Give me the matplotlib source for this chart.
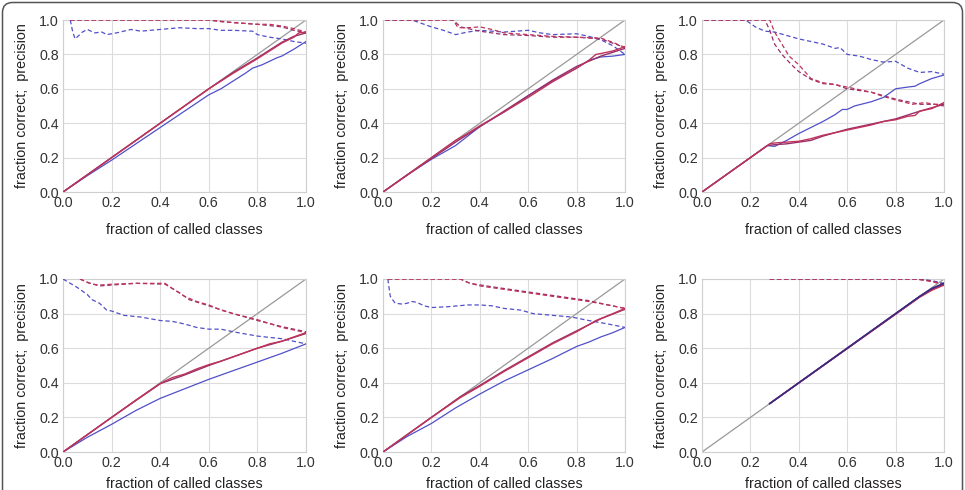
import matplotlib
matplotlib.use("Agg")
import matplotlib.pyplot as plt
from matplotlib.patches import FancyBboxPatch

plt.rcParams['font.family'] = ['Liberation Sans', 'DejaVu Sans']

# ---------------- data ----------------
TICKS = [0.0, 0.2, 0.4, 0.6, 0.8, 1.0]
TICK_LABELS = ["0.0", "0.2", "0.4", "0.6", "0.8", "1.0"]
XLABEL = "fraction of called classes"
YLABEL = "fraction correct;  precision"

# Panel 1
P1_BLUE_X = [0, 0.1, 0.2, 0.3, 0.4, 0.5, 0.6, 0.65, 0.7, 0.75, 0.78, 0.82, 0.88, 0.9, 0.95, 1.0]
P1_BLUE_Y = [0, 0.095, 0.185, 0.28, 0.375, 0.47, 0.565, 0.6, 0.645, 0.69, 0.72, 0.74, 0.78, 0.79, 0.83, 0.875]
P1_RED_X = [0, 0.6, 0.7, 0.8, 0.85, 0.9, 0.95, 0.97, 1.0]
P1_RED_Y = [0, 0.6, 0.69, 0.775, 0.82, 0.865, 0.9, 0.925, 0.93]
P1_PURPLE_X = [0, 0.6, 0.7, 0.8, 0.9, 0.95, 1.0]
P1_PURPLE_Y = [0, 0.6, 0.695, 0.78, 0.87, 0.905, 0.925]
P1_BLUE_D_X = [0.03, 0.04, 0.05, 0.08, 0.1, 0.13, 0.16, 0.18, 0.22, 0.28, 0.32, 0.4, 0.48, 0.55, 0.6, 0.65, 0.7, 0.78, 0.8, 0.85, 0.9, 0.95, 1.0]
P1_BLUE_D_Y = [1.0, 0.93, 0.89, 0.93, 0.945, 0.925, 0.93, 0.915, 0.925, 0.945, 0.935, 0.945, 0.955, 0.95, 0.95, 0.94, 0.94, 0.935, 0.915, 0.9, 0.89, 0.875, 0.865]
P1_RED_D_X = [0.03, 0.6, 0.65, 0.7, 0.8, 0.85, 0.9, 0.95, 1.0]
P1_RED_D_Y = [1, 1, 0.99, 0.985, 0.975, 0.975, 0.965, 0.95, 0.93]
P1_PURPLE_D_X = [0.03, 0.6, 0.7, 0.8, 0.9, 0.95, 1.0]
P1_PURPLE_D_Y = [1, 1, 0.985, 0.975, 0.96, 0.94, 0.925]

# Panel 2
P2_BLUE_X = [0, 0.1, 0.2, 0.3, 0.4, 0.5, 0.6, 0.7, 0.8, 0.85, 0.9, 0.95, 1.0]
P2_BLUE_Y = [0, 0.1, 0.19, 0.27, 0.38, 0.465, 0.56, 0.645, 0.72, 0.765, 0.785, 0.79, 0.8]
P2_RED_X = [0, 0.1, 0.2, 0.3, 0.35, 0.4, 0.5, 0.6, 0.7, 0.8, 0.85, 0.88, 0.9, 0.95, 1.0]
P2_RED_Y = [0, 0.1, 0.2, 0.3, 0.34, 0.385, 0.465, 0.55, 0.64, 0.72, 0.765, 0.8, 0.805, 0.82, 0.845]
P2_PURPLE_X = [0, 0.2, 0.3, 0.4, 0.5, 0.6, 0.7, 0.8, 0.9, 1.0]
P2_PURPLE_Y = [0, 0.195, 0.29, 0.38, 0.47, 0.56, 0.65, 0.73, 0.79, 0.835]
P2_BLUE_D_X = [0.01, 0.12, 0.16, 0.2, 0.25, 0.3, 0.35, 0.4, 0.5, 0.6, 0.65, 0.7, 0.8, 0.85, 0.9, 0.95, 1.0]
P2_BLUE_D_Y = [1, 1, 0.98, 0.96, 0.94, 0.915, 0.93, 0.94, 0.93, 0.94, 0.925, 0.915, 0.92, 0.905, 0.885, 0.85, 0.8]
P2_RED_D_X = [0.01, 0.29, 0.31, 0.35, 0.4, 0.45, 0.5, 0.6, 0.7, 0.8, 0.9, 0.95, 1.0]
P2_RED_D_Y = [1, 1, 0.955, 0.955, 0.96, 0.945, 0.925, 0.915, 0.905, 0.9, 0.895, 0.87, 0.84]
P2_PURPLE_D_X = [0.01, 0.29, 0.32, 0.4, 0.5, 0.6, 0.7, 0.8, 0.9, 1.0]
P2_PURPLE_D_Y = [1, 1, 0.96, 0.935, 0.915, 0.91, 0.9, 0.9, 0.89, 0.84]

# Panel 3
P3_BLUE_X = [0, 0.27, 0.3, 0.35, 0.4, 0.45, 0.5, 0.55, 0.58, 0.6, 0.63, 0.7, 0.75, 0.8, 0.85, 0.88, 0.9, 0.95, 1.0]
P3_BLUE_Y = [0, 0.27, 0.265, 0.3, 0.34, 0.375, 0.41, 0.45, 0.48, 0.48, 0.5, 0.525, 0.55, 0.6, 0.61, 0.615, 0.63, 0.66, 0.68]
P3_RED_X = [0, 0.28, 0.3, 0.35, 0.4, 0.45, 0.5, 0.55, 0.6, 0.65, 0.7, 0.75, 0.8, 0.85, 0.88, 0.9, 0.95, 1.0]
P3_RED_Y = [0, 0.28, 0.285, 0.29, 0.295, 0.31, 0.33, 0.345, 0.36, 0.375, 0.39, 0.41, 0.42, 0.44, 0.445, 0.47, 0.485, 0.52]
P3_PURPLE_X = [0, 0.27, 0.3, 0.35, 0.4, 0.45, 0.5, 0.6, 0.7, 0.8, 0.9, 1.0]
P3_PURPLE_Y = [0, 0.27, 0.275, 0.28, 0.29, 0.3, 0.325, 0.365, 0.395, 0.425, 0.47, 0.51]
P3_BLUE_D_X = [0.01, 0.18, 0.22, 0.26, 0.3, 0.35, 0.4, 0.45, 0.5, 0.55, 0.57, 0.6, 0.65, 0.7, 0.75, 0.8, 0.85, 0.9, 0.95, 1.0]
P3_BLUE_D_Y = [1, 1, 0.96, 0.935, 0.93, 0.91, 0.89, 0.875, 0.86, 0.835, 0.84, 0.8, 0.79, 0.77, 0.755, 0.76, 0.72, 0.695, 0.7, 0.685]
P3_RED_D_X = [0.01, 0.28, 0.3, 0.33, 0.36, 0.4, 0.45, 0.5, 0.55, 0.6, 0.65, 0.7, 0.75, 0.8, 0.87, 0.92, 1.0]
P3_RED_D_Y = [1, 1, 0.93, 0.86, 0.79, 0.74, 0.66, 0.635, 0.625, 0.61, 0.595, 0.58, 0.555, 0.535, 0.51, 0.52, 0.5]
P3_PURPLE_D_X = [0.01, 0.26, 0.28, 0.3, 0.33, 0.37, 0.4, 0.45, 0.5, 0.55, 0.6, 0.7, 0.8, 0.9, 1.0]
P3_PURPLE_D_Y = [1, 1, 0.94, 0.86, 0.8, 0.74, 0.7, 0.655, 0.63, 0.625, 0.6, 0.58, 0.54, 0.51, 0.51]

# Panel 4
P4_BLUE_X = [0, 0.1, 0.2, 0.3, 0.4, 0.5, 0.6, 0.7, 0.8, 0.9, 1.0]
P4_BLUE_Y = [0, 0.085, 0.16, 0.24, 0.31, 0.365, 0.42, 0.47, 0.52, 0.57, 0.625]
P4_RED_X = [0, 0.2, 0.3, 0.4, 0.42, 0.45, 0.5, 0.55, 0.6, 0.65, 0.7, 0.75, 0.8, 0.85, 0.9, 0.95, 1.0]
P4_RED_Y = [0, 0.2, 0.3, 0.395, 0.41, 0.43, 0.45, 0.48, 0.505, 0.525, 0.55, 0.575, 0.6, 0.625, 0.64, 0.665, 0.69]
P4_PURPLE_X = [0, 0.2, 0.4, 0.43, 0.5, 0.6, 0.7, 0.8, 0.9, 1.0]
P4_PURPLE_Y = [0, 0.2, 0.395, 0.41, 0.445, 0.5, 0.55, 0.6, 0.64, 0.685]
P4_BLUE_D_X = [0.0, 0.06, 0.1, 0.12, 0.15, 0.18, 0.2, 0.25, 0.32, 0.4, 0.45, 0.5, 0.55, 0.6, 0.65, 0.7, 0.8, 0.9, 1.0]
P4_BLUE_D_Y = [1, 0.95, 0.91, 0.88, 0.86, 0.82, 0.815, 0.79, 0.78, 0.76, 0.755, 0.74, 0.72, 0.71, 0.71, 0.695, 0.67, 0.655, 0.625]
P4_RED_D_X = [0.07, 0.12, 0.15, 0.2, 0.3, 0.35, 0.42, 0.45, 0.5, 0.55, 0.6, 0.65, 0.7, 0.8, 0.9, 1.0]
P4_RED_D_Y = [1, 0.97, 0.965, 0.97, 0.975, 0.975, 0.975, 0.945, 0.9, 0.87, 0.85, 0.82, 0.8, 0.765, 0.72, 0.69]
P4_PURPLE_D_X = [0.07, 0.1, 0.15, 0.2, 0.3, 0.42, 0.48, 0.52, 0.6, 0.7, 0.8, 0.9, 1.0]
P4_PURPLE_D_Y = [1, 0.98, 0.96, 0.965, 0.975, 0.97, 0.92, 0.88, 0.845, 0.8, 0.76, 0.725, 0.695]

# Panel 5
P5_BLUE_X = [0, 0.1, 0.2, 0.3, 0.4, 0.5, 0.6, 0.7, 0.8, 0.85, 0.9, 0.95, 1.0]
P5_BLUE_Y = [0, 0.09, 0.165, 0.255, 0.335, 0.41, 0.475, 0.54, 0.61, 0.635, 0.665, 0.69, 0.72]
P5_RED_X = [0, 0.2, 0.32, 0.4, 0.5, 0.6, 0.7, 0.8, 0.88, 0.95, 1.0]
P5_RED_Y = [0, 0.2, 0.315, 0.38, 0.465, 0.545, 0.625, 0.695, 0.76, 0.8, 0.83]
P5_PURPLE_X = [0, 0.32, 0.4, 0.5, 0.6, 0.7, 0.8, 0.9, 1.0]
P5_PURPLE_Y = [0, 0.32, 0.385, 0.47, 0.55, 0.63, 0.7, 0.77, 0.825]
P5_BLUE_D_X = [0.02, 0.03, 0.05, 0.08, 0.1, 0.12, 0.14, 0.17, 0.2, 0.27, 0.35, 0.4, 0.45, 0.5, 0.57, 0.62, 0.7, 0.78, 0.85, 0.93, 1.0]
P5_BLUE_D_Y = [1, 0.9, 0.86, 0.855, 0.86, 0.87, 0.865, 0.845, 0.835, 0.84, 0.85, 0.85, 0.845, 0.83, 0.82, 0.8, 0.79, 0.78, 0.76, 0.74, 0.72]
P5_RED_D_X = [0.02, 0.32, 0.35, 0.4, 0.45, 0.55, 0.65, 0.75, 0.85, 0.93, 1.0]
P5_RED_D_Y = [1, 1, 0.98, 0.96, 0.95, 0.93, 0.91, 0.89, 0.87, 0.85, 0.83]
P5_PURPLE_D_X = [0.02, 0.32, 0.36, 0.45, 0.55, 0.65, 0.75, 0.85, 0.93, 1.0]
P5_PURPLE_D_Y = [1, 1, 0.975, 0.955, 0.935, 0.915, 0.895, 0.875, 0.85, 0.83]

# Panel 6
P6_BLUE_X = [0.28, 0.9, 0.95, 1.0]
P6_BLUE_Y = [0.28, 0.9, 0.945, 0.975]
P6_RED_X = [0.28, 0.9, 0.95, 1.0]
P6_RED_Y = [0.28, 0.895, 0.935, 0.965]
P6_PURPLE_X = [0.28, 0.9, 0.95, 1.0]
P6_PURPLE_Y = [0.28, 0.898, 0.94, 0.97]
P6_BLUE_D_X = [0.28, 0.9, 0.95, 1.0]
P6_BLUE_D_Y = [1, 1, 0.99, 0.975]
P6_RED_D_X = [0.28, 0.88, 0.95, 1.0]
P6_RED_D_Y = [1, 1, 0.985, 0.965]
P6_PURPLE_D_X = [0.28, 0.89, 0.95, 1.0]
P6_PURPLE_D_Y = [1, 1, 0.988, 0.97]

PANELS = [
    ((P1_BLUE_X, P1_BLUE_Y), (P1_RED_X, P1_RED_Y), (P1_PURPLE_X, P1_PURPLE_Y),
     (P1_BLUE_D_X, P1_BLUE_D_Y), (P1_RED_D_X, P1_RED_D_Y), (P1_PURPLE_D_X, P1_PURPLE_D_Y)),
    ((P2_BLUE_X, P2_BLUE_Y), (P2_RED_X, P2_RED_Y), (P2_PURPLE_X, P2_PURPLE_Y),
     (P2_BLUE_D_X, P2_BLUE_D_Y), (P2_RED_D_X, P2_RED_D_Y), (P2_PURPLE_D_X, P2_PURPLE_D_Y)),
    ((P3_BLUE_X, P3_BLUE_Y), (P3_RED_X, P3_RED_Y), (P3_PURPLE_X, P3_PURPLE_Y),
     (P3_BLUE_D_X, P3_BLUE_D_Y), (P3_RED_D_X, P3_RED_D_Y), (P3_PURPLE_D_X, P3_PURPLE_D_Y)),
    ((P4_BLUE_X, P4_BLUE_Y), (P4_RED_X, P4_RED_Y), (P4_PURPLE_X, P4_PURPLE_Y),
     (P4_BLUE_D_X, P4_BLUE_D_Y), (P4_RED_D_X, P4_RED_D_Y), (P4_PURPLE_D_X, P4_PURPLE_D_Y)),
    ((P5_BLUE_X, P5_BLUE_Y), (P5_RED_X, P5_RED_Y), (P5_PURPLE_X, P5_PURPLE_Y),
     (P5_BLUE_D_X, P5_BLUE_D_Y), (P5_RED_D_X, P5_RED_D_Y), (P5_PURPLE_D_X, P5_PURPLE_D_Y)),
    ((P6_BLUE_X, P6_BLUE_Y), (P6_RED_X, P6_RED_Y), (P6_PURPLE_X, P6_PURPLE_Y),
     (P6_BLUE_D_X, P6_BLUE_D_Y), (P6_RED_D_X, P6_RED_D_Y), (P6_PURPLE_D_X, P6_PURPLE_D_Y)),
]

# ---------------- style ----------------
BLUE = '#5050c8'
RED = '#c0335a'
PURPLE = '#962e6a'
DIAG = '#999999'
GRID = '#dcdcdc'
SPINE = '#cfcfcf'
TEXT = '#333333'
FS = 10.3

W, H = 965, 490
fig = plt.figure(figsize=(W / 100, H / 100), dpi=100)

lefts = [63, 383, 702]
widths = [243, 242, 242]
rows = [(20, 192), (279, 452)]  # (top px, bottom px)
xlabelpads = [9, 5]

for i, series in enumerate(PANELS):
    r, c = divmod(i, 3)
    top, bot = rows[r]
    ax = fig.add_axes([lefts[c] / W, 1 - bot / H, widths[c] / W, (bot - top) / H])
    ax.set_xlim(0, 1)
    ax.set_ylim(0, 1)
    ax.set_xticks(TICKS)
    ax.set_yticks(TICKS)
    ax.set_xticklabels(TICK_LABELS)
    ax.set_yticklabels(TICK_LABELS)
    ax.tick_params(length=0, labelsize=FS, labelcolor=TEXT, pad=3)
    ax.grid(True, color=GRID, lw=0.8)
    ax.set_axisbelow(True)
    for s in ax.spines.values():
        s.set_color(SPINE)
        s.set_linewidth(0.8)
    ax.set_xlabel(XLABEL, fontsize=FS, color='#222222', labelpad=xlabelpads[r])
    ax.set_ylabel(YLABEL, fontsize=FS, color='#222222', labelpad=7)

    ax.plot(TICKS[::5], TICKS[::5], color=DIAG, lw=0.9, zorder=2)
    (bx, by), (rx, ry), (px, py), (bdx, bdy), (rdx, rdy), (pdx, pdy) = series
    ax.plot(bdx, bdy, color=BLUE, lw=0.9, dashes=(3.5, 2.2), zorder=3)
    ax.plot(pdx, pdy, color=PURPLE, lw=0.9, dashes=(3.5, 2.2), zorder=3)
    ax.plot(rdx, rdy, color=RED, lw=0.9, dashes=(3.5, 2.2), zorder=3)
    ax.plot(bx, by, color=BLUE, lw=0.9, zorder=4)
    ax.plot(px, py, color=PURPLE, lw=1.0, zorder=4)
    ax.plot(rx, ry, color=RED, lw=1.0, zorder=4)
    if i == 5:
        ax.plot(bx, by, color='#3a2a80', lw=1.2, zorder=5)

border = FancyBboxPatch((2.5, -30), 960, H - 2.5 + 30,
                        boxstyle="round,pad=0,rounding_size=10",
                        transform=None, fill=False, edgecolor='#555555', lw=1.1)
fig.patches.append(border)

fig.savefig("out.png", dpi=100)
